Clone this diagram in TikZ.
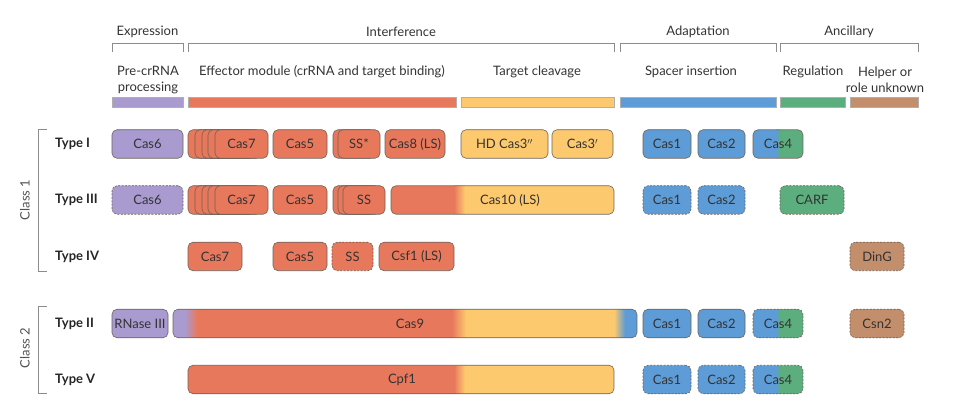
\documentclass[tikz,border=0pt]{standalone}
\usepackage{fontspec}
\setmainfont{Lato}
\definecolor{cpur}{HTML}{A99BD0}
\definecolor{cred}{HTML}{E8785C}
\definecolor{cyel}{HTML}{FDC96E}
\definecolor{cblu}{HTML}{5D9CD6}
\definecolor{cgrn}{HTML}{5DAE7E}
\definecolor{cbrn}{HTML}{C38E6C}
\definecolor{bordc}{HTML}{6E6259}
\definecolor{brk}{HTML}{8C8C8C}
\definecolor{txt}{HTML}{333333}
\tikzset{
  cbox/.style={draw=bordc, line width=0.6pt, rounded corners=5pt, minimum height=28.5pt, inner sep=0pt, text=txt, font=\fontsize{13}{15}\selectfont},
  dbox/.style={cbox, dash pattern=on 2pt off 1.4pt},
  lbl/.style={text=txt, font=\fontsize{13}{15}\selectfont, inner sep=0pt},
  hdr/.style={text=txt, font=\fontsize{13}{16}\selectfont, inner sep=0pt, align=center},
  typ/.style={text=black!85, font=\fontsize{13}{15}\selectfont\bfseries, inner sep=0pt, anchor=west},
  brack/.style={draw=brk, line width=0.7pt},
  bar/.style={draw=brk!70, line width=0.4pt},
  gborder/.style={draw=bordc, line width=0.6pt, rounded corners=5pt},
}
\newcommand\bx[6]{\node[#5, minimum width={#3pt-#2pt}] (#1) at ({(#2+#3)/2},#4) {#6};}
\begin{document}
\begin{tikzpicture}[x=1pt,y=-1pt]
\useasboundingbox (0,0) rectangle (953,403);
% header brackets
\foreach \a/\b/\n/\t in {112/183/hexp/Expression,188/614/hint/Interference,620/776/hada/Adaptation,780/918/hanc/Ancillary}{
  \draw[brack] (\a,52) -- (\a,43) -- (\b,43) -- (\b,52);
  \node[hdr] (\n) at ({(\a+\b)/2},32) {\t};
}
% sub headers
\node[hdr] (s1) at (148,80) {Pre-crRNA\\processing};
\node[hdr] (s2) at (322,72) {Effector module (crRNA and target binding)};
\node[hdr] (s3) at (537,72) {Target cleavage};
\node[hdr] (s4) at (691,72) {Spacer insertion};
\node[hdr] (s5) at (813,72) {Regulation};
\node[hdr] (s6) at (885,80) {Helper or\\role unknown};
% bars
\fill[cpur,bar] (112,97.5) rectangle (183,107);
\fill[cred,bar] (188,97.5) rectangle (456,107);
\fill[cyel,bar] (461,97.5) rectangle (614,107);
\fill[cblu,bar] (620,97.5) rectangle (776,107);
\fill[cgrn,bar] (780,97.5) rectangle (845,107);
\fill[cbrn,bar] (850,97.5) rectangle (918,107);
% class brackets
\draw[brack] (47,129) -- (38,129) -- (38,271) -- (47,271);
\draw[brack] (47,306) -- (38,306) -- (38,393) -- (47,393);
\node[lbl, rotate=90, text=txt!85] (c1) at (25,200) {Class 1};
\node[lbl, rotate=90, text=txt!85] (c2) at (25,348) {Class 2};
% type labels
\node[typ] (t1) at (55,144) {Type I};
\node[typ] (t3) at (55,200) {Type III};
\node[typ] (t4) at (55,256.5) {Type IV};
\node[typ] (t2) at (55,323.5) {Type II};
\node[typ] (t5) at (55,379.5) {Type V};
% ---------- Type I
\bx{a1}{112}{183}{144}{cbox,fill=cpur}{Cas6}
\foreach \s [count=\i] in {188,195,202,208}{\bx{a7s\i}{\s}{\s+53}{144}{cbox,fill=cred}{}}
\bx{a7}{215}{268}{144}{cbox,fill=cred}{Cas7}
\bx{a5}{273}{327}{144}{cbox,fill=cred}{Cas5}
\bx{assb}{333}{375}{144}{cbox,fill=cred}{}
\bx{ass}{338}{380}{144}{cbox,fill=cred}{SS*}
\bx{a8}{385}{445}{144}{cbox,fill=cred}{Cas8 (LS)}
\bx{ahd}{461}{548}{144}{cbox,fill=cyel}{HD Cas3$''$}
\bx{a3}{552}{613}{144}{cbox,fill=cyel}{Cas3$'$}
\bx{ac1}{643}{691}{144}{cbox,fill=cblu}{Cas1}
\bx{ac2}{698}{745}{144}{cbox,fill=cblu}{Cas2}
\begin{scope}
\clip[rounded corners=5pt] (753,129.75) rectangle (803,158.25);
\fill[cblu] (753,129.75) rectangle (776,158.25);
\shade[left color=cblu,right color=cgrn] (776,129.75) rectangle (780,158.25);
\fill[cgrn] (780,129.75) rectangle (803,158.25);
\end{scope}
\draw[gborder] (753,129.75) rectangle (803,158.25);
\node[lbl] (ac4) at (778,144) {Cas4};
% ---------- Type III
\bx{b1}{112}{183}{200}{dbox,fill=cpur}{Cas6}
\foreach \s [count=\i] in {188,195,202,208}{\bx{b7s\i}{\s}{\s+53}{200}{cbox,fill=cred}{}}
\bx{b7}{215}{268}{200}{cbox,fill=cred}{Cas7}
\bx{b5}{273}{327}{200}{cbox,fill=cred}{Cas5}
\bx{bssa}{333}{375}{200}{cbox,fill=cred}{}
\bx{bssb}{338}{380}{200}{cbox,fill=cred}{}
\bx{bss}{343}{385}{200}{cbox,fill=cred}{SS}
\begin{scope}
\clip[rounded corners=5pt] (391,185.75) rectangle (614,214.25);
\fill[cred] (391,185.75) rectangle (454,214.25);
\shade[left color=cred,right color=cyel] (454,185.75) rectangle (465,214.25);
\fill[cyel] (465,185.75) rectangle (614,214.25);
\end{scope}
\draw[gborder] (391,185.75) rectangle (614,214.25);
\node[lbl] (b10) at (510,200) {Cas10 (LS)};
\bx{bc1}{643}{691}{200}{dbox,fill=cblu}{Cas1}
\bx{bc2}{698}{745}{200}{dbox,fill=cblu}{Cas2}
\bx{bcarf}{780}{844}{200}{dbox,fill=cgrn}{CARF}
% ---------- Type IV
\bx{c7}{188}{242}{256.5}{cbox,fill=cred}{Cas7}
\bx{c5}{273}{327}{256.5}{cbox,fill=cred}{Cas5}
\bx{css}{332}{373}{256.5}{dbox,fill=cred}{SS}
\bx{csf}{379}{454}{256.5}{cbox,fill=cred}{Csf1 (LS)}
\bx{cding}{850}{904}{256.5}{dbox,fill=cbrn}{DinG}
% ---------- Type II
\bx{d1}{112}{168}{323.5}{cbox,fill=cpur}{RNase III}
\begin{scope}
\clip[rounded corners=5pt] (173,309.25) rectangle (637,337.75);
\fill[cpur] (173,309.25) rectangle (185,337.75);
\shade[left color=cpur,right color=cred] (185,309.25) rectangle (197,337.75);
\fill[cred] (197,309.25) rectangle (452,337.75);
\shade[left color=cred,right color=cyel] (452,309.25) rectangle (466,337.75);
\fill[cyel] (466,309.25) rectangle (614,337.75);
\shade[left color=cyel,right color=cblu] (614,309.25) rectangle (625,337.75);
\fill[cblu] (625,309.25) rectangle (637,337.75);
\end{scope}
\draw[gborder] (173,309.25) rectangle (637,337.75);
\node[lbl] (d9) at (410,323.5) {Cas9};
\bx{dc1}{643}{691}{323.5}{cbox,fill=cblu}{Cas1}
\bx{dc2}{698}{745}{323.5}{cbox,fill=cblu}{Cas2}
\begin{scope}
\clip[rounded corners=5pt] (753,309.25) rectangle (803,337.75);
\fill[cblu] (753,309.25) rectangle (776,337.75);
\shade[left color=cblu,right color=cgrn] (776,309.25) rectangle (780,337.75);
\fill[cgrn] (780,309.25) rectangle (803,337.75);
\end{scope}
\draw[gborder, dash pattern=on 2pt off 1.4pt] (753,309.25) rectangle (803,337.75);
\node[lbl] (dc4) at (778,323.5) {Cas4};
\bx{dcsn}{850}{904}{323.5}{dbox,fill=cbrn}{Csn2}
% ---------- Type V
\begin{scope}
\clip[rounded corners=5pt] (188,365.25) rectangle (614,393.75);
\fill[cred] (188,365.25) rectangle (454,393.75);
\shade[left color=cred,right color=cyel] (454,365.25) rectangle (465,393.75);
\fill[cyel] (465,365.25) rectangle (614,393.75);
\end{scope}
\draw[gborder] (188,365.25) rectangle (614,393.75);
\node[lbl] (ecpf) at (402,379.5) {Cpf1};
\bx{ec1}{643}{691}{379.5}{dbox,fill=cblu}{Cas1}
\bx{ec2}{698}{745}{379.5}{dbox,fill=cblu}{Cas2}
\begin{scope}
\clip[rounded corners=5pt] (753,365.25) rectangle (803,393.75);
\fill[cblu] (753,365.25) rectangle (776,393.75);
\shade[left color=cblu,right color=cgrn] (776,365.25) rectangle (780,393.75);
\fill[cgrn] (780,365.25) rectangle (803,393.75);
\end{scope}
\draw[gborder, dash pattern=on 2pt off 1.4pt] (753,365.25) rectangle (803,393.75);
\node[lbl] (ec4) at (778,379.5) {Cas4};
\end{tikzpicture}
\end{document}
